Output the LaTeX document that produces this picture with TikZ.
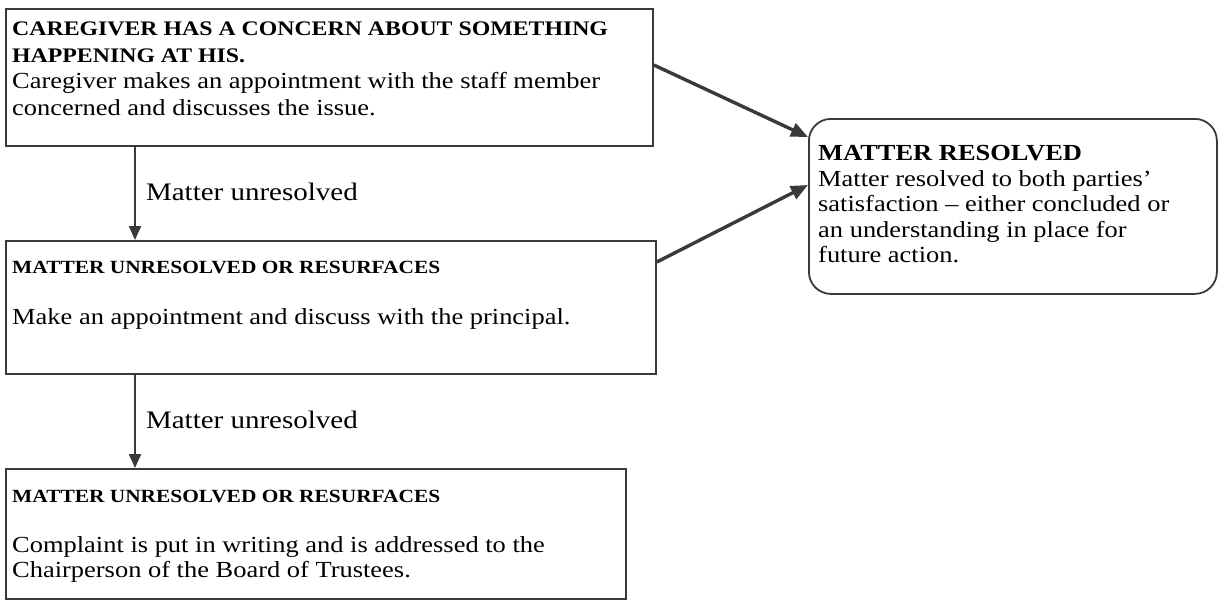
\documentclass[tikz,border=0pt]{standalone}
\usepackage{fontspec}
\setmainfont{Liberation Serif}[FakeStretch=1.15]
\usetikzlibrary{arrows.meta,calc}
\definecolor{ink}{HTML}{3A3A3A}
\begin{document}
\begin{tikzpicture}[x=1pt,y=-1pt,
  boxshape/.style={draw=ink,line width=1.8pt,inner sep=0,anchor=north west},
  rbox/.style={boxshape,rounded corners=22pt},
  txt/.style={anchor=north west,inner sep=0,align=left,text=black},
  arr/.style={draw=ink,line width=2.2pt,-{Triangle[length=14pt,width=12pt]}},
  darr/.style={draw=ink,line width=3.4pt,-{Triangle[length=17pt,width=14pt]}},
  lbl/.style={anchor=west,inner sep=0,text=black,font=\fontsize{25.2}{30}\selectfont},
  body/.style={font=\fontsize{23}{25.6}\selectfont},
  bodyA/.style={font=\fontsize{23}{26.4}\selectfont},
]
\useasboundingbox (0,0) rectangle (1219,600);

\node[boxshape,minimum width=647pt,minimum height=137pt] (b1) at (5,8) {};
\node[boxshape,minimum width=650pt,minimum height=133pt] (b2) at (5,240) {};
\node[boxshape,minimum width=620pt,minimum height=130pt] (b3) at (5,468) {};
\node[rbox,minimum width=408pt,minimum height=175pt] (b4) at (808,118) {};

\node[txt,bodyA] (t1) at (12,22) {{\fontsize{20.7}{26.4}\selectfont\bfseries CAREGIVER HAS A CONCERN ABOUT SOMETHING}\\
{\fontsize{20.7}{26.4}\selectfont\bfseries HAPPENING AT HIS.}\\
Caregiver makes an appointment with the staff member\\
concerned and discusses the issue.};

\node[txt,body] (t2) at (12,261) {{\fontsize{18.6}{25.6}\selectfont\bfseries MATTER UNRESOLVED OR RESURFACES}\\[25pt]
Make an appointment and discuss with the principal.};

\node[txt,body] (t3) at (12,490) {{\fontsize{18.6}{25.6}\selectfont\bfseries MATTER UNRESOLVED OR RESURFACES}\\[24pt]
Complaint is put in writing and is addressed to the\\
Chairperson of the Board of Trustees.};

\node[txt,body] (t4) at (818,145) {{\bfseries MATTER RESOLVED}\\
Matter resolved to both parties’\\
satisfaction – either concluded or\\
an understanding in place for\\
future action.};

\draw[arr] ([xshift=130pt]b1.south west) -- ([xshift=130pt]b2.north west)
  node[lbl,pos=0.5,xshift=10pt,yshift=2pt] (l1) {Matter unresolved};
\draw[arr] ([xshift=130pt]b2.south west) -- ([xshift=130pt]b3.north west)
  node[lbl,pos=0.5,xshift=10pt,yshift=2pt] (l2) {Matter unresolved};

\draw[darr] ([yshift=-57pt]b1.north east) -- ([yshift=-19pt]b4.north west);
\draw[darr] ([yshift=-22pt]b2.north east) -- ([yshift=-67pt]b4.north west);
\end{tikzpicture}
\end{document}
